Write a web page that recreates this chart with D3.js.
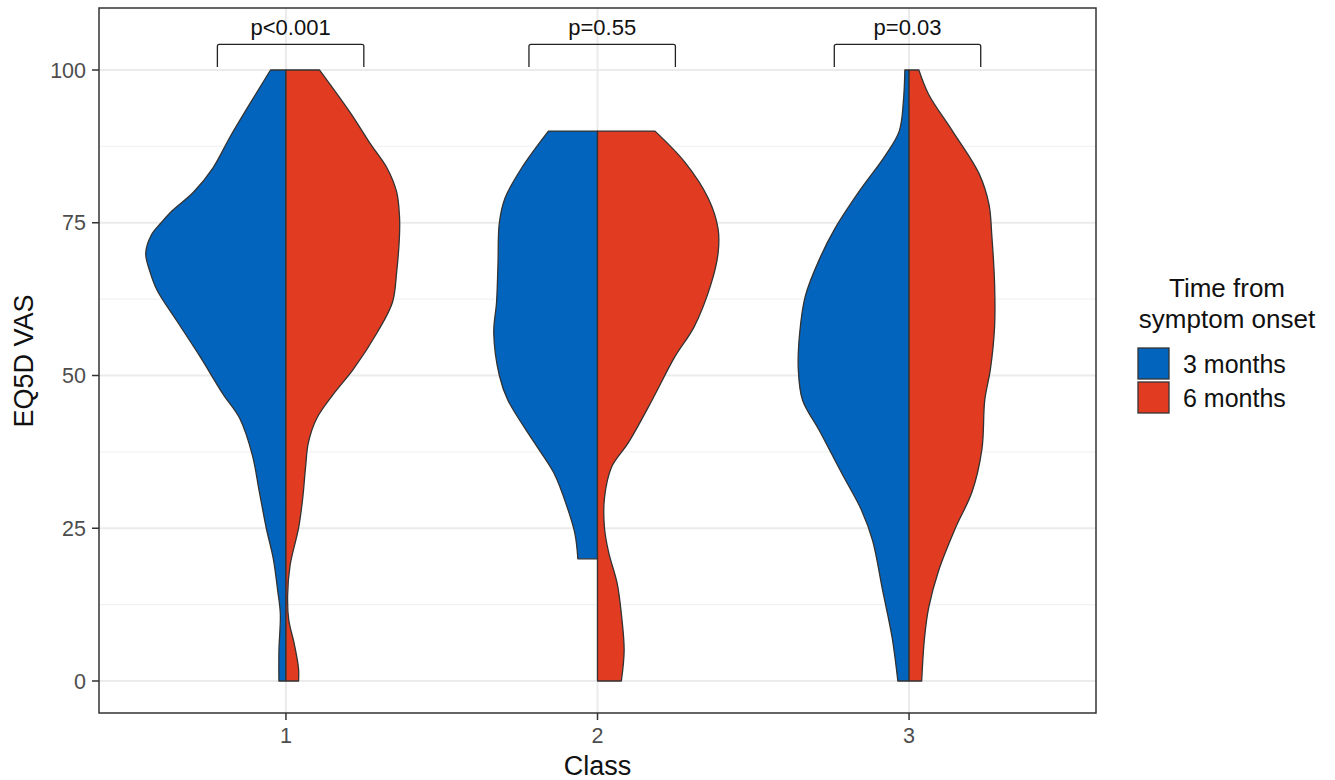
<!DOCTYPE html>
<meta charset='utf-8'>
<head>
    <title>EQ5D VAS by class</title>
    <script src='https://cdn.jsdelivr.net/npm/d3@7'></script>
</head>

<style>
    body { margin: 0; background: #fff; }
    text { font-family: 'Liberation Sans', Arial, Helvetica, sans-serif; }
    .grid-major { stroke: #ebebeb; stroke-width: 2px; }
    .grid-minor { stroke: #f2f2f2; stroke-width: 1.2px; }
    .violin { stroke: #333; stroke-width: 1.3px; stroke-linejoin: round; }
    .tick-label { fill: #4d4d4d; font-size: 21.5px; }
</style>

<svg></svg>

<script>

    // Data: value on the EQ5D VAS scale, relative half-width of the violin (density)
    var classes = ['1', '2', '3'];
    var groups = ['3 months', '6 months'];
    var groupColors = ['#0364be', '#e13b22'];
    var yTicks = [0, 25, 50, 75, 100];
    var yMinorTicks = [12.5, 37.5, 62.5, 87.5];
    var pLabels = ['p<0.001', 'p=0.55', 'p=0.03'];
    var bracketStart = [0.78, 1.78, 2.76];
    var bracketEnd = [1.25, 2.25, 3.23];

    var class1Month3 = [[0, .05], [5, .05], [11, .04], [15, .06], [20, .09], [25, .14], [31, .19],
        [37, .24], [43, .33], [47, .45], [53, .61], [59, .78], [64, .92], [67, .97], [70, 1.0],
        [73, .96], [75, .89], [77, .81], [80, .66], [84, .52], [89, .40], [94, .27], [100, .11]];
    var class1Month6 = [[0, .09], [2, .09], [6, .06], [10, .02], [14, .012], [19, .03], [25, .09],
        [30, .12], [35, .14], [39, .16], [43, .22], [47, .34], [51, .48], [57, .65], [62, .76],
        [67, .79], [73, .81], [76, .81], [80, .79], [84, .72], [88, .60], [93, .46], [100, .24]];
    var class2Month3 = [[20, .14], [24, .16], [28, .21], [34, .31], [39, .45], [46, .64], [50, .70],
        [57, .74], [62, .72], [68, .71], [75, .70], [79, .66], [84, .54], [90, .35]];
    var class2Month6 = [[0, .17], [5, .19], [11, .17], [16, .14], [21, .08], [25, .05], [30, .05],
        [35, .10], [39, .22], [46, .39], [53, .55], [58, .69], [65, .81], [70, .86], [74, .86],
        [79, .79], [85, .62], [90, .41]];
    var class3Month3 = [[0, .08], [7, .12], [15, .19], [23, .26], [28, .34], [34, .48], [41, .64],
        [46, .76], [51, .79], [57, .78], [63, .74], [69, .64], [74, .53], [80, .36], [86, .17],
        [90, .07], [95, .04], [100, .03]];
    var class3Month6 = [[0, .09], [7, .11], [12, .14], [18, .21], [25, .33], [31, .45], [38, .52],
        [46, .54], [51, .58], [58, .61], [65, .61], [73, .59], [78, .57], [83, .50], [90, .31],
        [96, .14], [100, .07]];

    var violins = [
        {cls: 1, group: 0, pts: class1Month3}, {cls: 1, group: 1, pts: class1Month6},
        {cls: 2, group: 0, pts: class2Month3}, {cls: 2, group: 1, pts: class2Month6},
        {cls: 3, group: 0, pts: class3Month3}, {cls: 3, group: 1, pts: class3Month6}
    ];

    // physical space setup
    var vWidth = 1335, vHeight = 780;
    var panel = {left: 99, right: 1096, top: 8, bottom: 713};
    var svg = d3.select('svg').attr('width', vWidth).attr('height', vHeight);

    var x = d3.scaleLinear().domain([0.4, 3.6]).range([panel.left, panel.right]);
    var y = d3.scaleLinear().domain([-5.24, 110.15]).range([panel.bottom, panel.top]);
    var halfWidth = 0.45; // max half width of a violin, in class units

    // grid
    var g = svg.append('g');
    g.selectAll('.grid-minor').data(yMinorTicks).enter().append('line')
        .attr('class', 'grid-minor')
        .attr('x1', panel.left).attr('x2', panel.right)
        .attr('y1', function (d) { return y(d); }).attr('y2', function (d) { return y(d); });
    g.selectAll('.gy').data(yTicks).enter().append('line')
        .attr('class', 'grid-major gy')
        .attr('x1', panel.left).attr('x2', panel.right)
        .attr('y1', function (d) { return y(d); }).attr('y2', function (d) { return y(d); });
    g.selectAll('.gx').data(classes).enter().append('line')
        .attr('class', 'grid-major gx')
        .attr('y1', panel.top).attr('y2', panel.bottom)
        .attr('x1', function (d, i) { return x(i + 1); }).attr('x2', function (d, i) { return x(i + 1); });

    // violins: one half per group
    var edge = d3.line().curve(d3.curveCatmullRom.alpha(0.5));
    g.selectAll('.violin').data(violins).enter().append('path')
        .attr('class', 'violin')
        .attr('fill', function (d) { return groupColors[d.group]; })
        .attr('d', function (d) {
            var cx = x(d.cls);
            var sign = d.group === 0 ? -1 : 1;
            var pts = d.pts.map(function (p) {
                return [x(d.cls + sign * p[1] * halfWidth), y(p[0])];
            });
            var first = d.pts[0][0], last = d.pts[d.pts.length - 1][0];
            return edge(pts) + 'L' + cx + ',' + y(last) + 'L' + cx + ',' + y(first) + 'Z';
        });

    // significance brackets
    var bracketTop = 104.2, bracketLeg = 100.5;
    g.selectAll('.bracket').data(pLabels).enter().append('path')
        .attr('fill', 'none').attr('stroke', '#222').attr('stroke-width', 1.3)
        .attr('stroke-linejoin', 'round')
        .attr('d', function (d, i) {
            var x0 = x(bracketStart[i]), x1 = x(bracketEnd[i]);
            return 'M' + x0 + ',' + y(bracketLeg) + 'L' + x0 + ',' + (y(bracketTop) + 2) +
                'Q' + x0 + ',' + y(bracketTop) + ' ' + (x0 + 2) + ',' + y(bracketTop) +
                'L' + (x1 - 2) + ',' + y(bracketTop) +
                'Q' + x1 + ',' + y(bracketTop) + ' ' + x1 + ',' + (y(bracketTop) + 2) +
                'L' + x1 + ',' + y(bracketLeg);
        });
    g.selectAll('.plabel').data(pLabels).enter().append('text')
        .attr('x', function (d, i) { return (x(bracketStart[i]) + x(bracketEnd[i])) / 2; })
        .attr('y', y(bracketTop) - 9)
        .attr('text-anchor', 'middle').attr('font-size', 22).attr('fill', '#111')
        .text(function (d) { return d; });

    // panel border
    svg.append('rect')
        .attr('x', panel.left).attr('y', panel.top)
        .attr('width', panel.right - panel.left).attr('height', panel.bottom - panel.top)
        .attr('fill', 'none').attr('stroke', '#333').attr('stroke-width', 1.5);

    // axes
    var yAxis = svg.append('g');
    yTicks.forEach(function (t) {
        yAxis.append('line').attr('x1', panel.left - 7).attr('x2', panel.left)
            .attr('y1', y(t)).attr('y2', y(t)).attr('stroke', '#333').attr('stroke-width', 1.5);
        yAxis.append('text').attr('class', 'tick-label')
            .attr('x', panel.left - 13).attr('y', y(t)).attr('dy', '0.36em')
            .attr('text-anchor', 'end').text(t);
    });
    var xAxis = svg.append('g');
    classes.forEach(function (c, i) {
        xAxis.append('line').attr('x1', x(i + 1)).attr('x2', x(i + 1))
            .attr('y1', panel.bottom).attr('y2', panel.bottom + 7)
            .attr('stroke', '#333').attr('stroke-width', 1.5);
        xAxis.append('text').attr('class', 'tick-label')
            .attr('x', x(i + 1)).attr('y', 743)
            .attr('text-anchor', 'middle').text(c);
    });

    svg.append('text').attr('x', x(2)).attr('y', 775)
        .attr('text-anchor', 'middle').attr('font-size', 27).attr('fill', '#111')
        .text('Class');
    svg.append('text').attr('transform', 'translate(33,361) rotate(-90)')
        .attr('text-anchor', 'middle').attr('font-size', 27).attr('fill', '#111')
        .text('EQ5D VAS');

    // legend
    var legend = svg.append('g');
    legend.append('text').attr('x', 1227).attr('y', 297)
        .attr('text-anchor', 'middle').attr('font-size', 26).attr('fill', '#111')
        .text('Time from');
    legend.append('text').attr('x', 1227).attr('y', 328)
        .attr('text-anchor', 'middle').attr('font-size', 26).attr('fill', '#111')
        .text('symptom onset');
    groups.forEach(function (gName, i) {
        legend.append('rect')
            .attr('x', 1138).attr('y', 348 + i * 34)
            .attr('width', 31).attr('height', 31)
            .attr('fill', groupColors[i]).attr('stroke', '#333').attr('stroke-width', 1.3);
        legend.append('text')
            .attr('x', 1183).attr('y', 364 + i * 34).attr('dy', '0.36em')
            .attr('font-size', 25).attr('fill', '#111')
            .text(gName);
    });
</script>
